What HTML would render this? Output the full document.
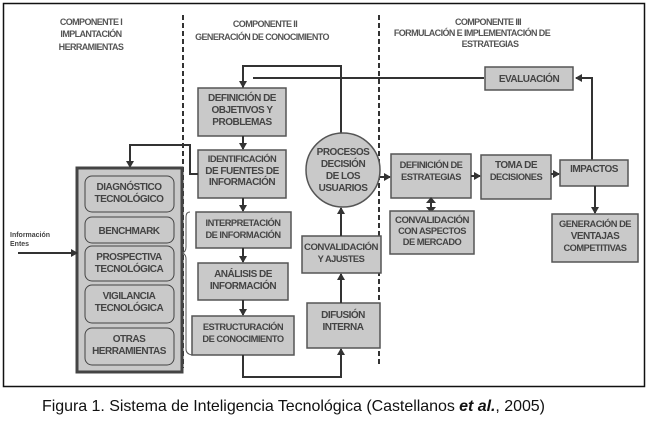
<!DOCTYPE html>
<html><head><meta charset="utf-8"><style>
body{margin:0;background:#fff;}
svg text{font-family:"Liberation Sans",sans-serif;}
.b{font-weight:bold;font-size:10px;fill:#444;text-anchor:middle;letter-spacing:-0.5px}
.s{font-size:9.3px}
.h{font-weight:bold;font-size:9px;fill:#555;text-anchor:middle;letter-spacing:-0.6px}
.bx{fill:#c9c9c9;stroke:#555;stroke-width:1.5}
.ln{stroke:#333;stroke-width:2;fill:none}
</style></head><body>
<svg width="648" height="418" viewBox="0 0 648 418" xmlns="http://www.w3.org/2000/svg">
<defs><marker id="a" markerWidth="8" markerHeight="8" refX="6" refY="4" orient="auto" markerUnits="userSpaceOnUse"><path d="M0,0 L7,4 L0,8 z" fill="#333"/></marker></defs>
<rect x="3.5" y="3.5" width="641" height="383" fill="#fff" stroke="#111" stroke-width="1.5"/>
<line x1="183" y1="15" x2="183" y2="368" stroke="#333" stroke-width="2" stroke-dasharray="5,3"/>
<line x1="379" y1="15" x2="379" y2="365" stroke="#333" stroke-width="2" stroke-dasharray="5,3"/>
<text class="h" x="91" y="25">COMPONENTE I</text>
<text class="h" x="91" y="37">IMPLANTACIÓN</text>
<text class="h" x="91" y="50">HERRAMIENTAS</text>
<text class="h" x="265" y="27">COMPONENTE II</text>
<text class="h" x="262" y="40">GENERACIÓN DE CONOCIMIENTO</text>
<text class="h" x="488" y="25">COMPONENTE III</text>
<text class="h" x="472" y="36">FORMULACIÓN E IMPLEMENTACIÓN DE</text>
<text class="h" x="490" y="47">ESTRATEGIAS</text>
<path class="ln" d="M243,88 V66 H341 V133"/>
<path class="ln" d="M253,78 H484"/>
<path class="ln" d="M592,160 V78 H576" marker-end="url(#a)"/>
<line class="ln" x1="243" y1="70" x2="243" y2="87" marker-end="url(#a)"/>
<rect class="bx" x="198" y="88" width="88" height="48"/>
<text class="b" x="242" y="101">DEFINICIÓN DE</text><text class="b" x="242" y="113">OBJETIVOS Y</text><text class="b" x="242" y="125">PROBLEMAS</text>
<line class="ln" x1="243" y1="136" x2="243" y2="149" marker-end="url(#a)"/>
<rect class="bx" x="198" y="150" width="88" height="48"/>
<text class="b s" x="242" y="162">IDENTIFICACIÓN</text><text class="b" x="242" y="174">DE FUENTES DE</text><text class="b" x="242" y="185">INFORMACIÓN</text>
<line class="ln" x1="243" y1="198" x2="243" y2="211" marker-end="url(#a)"/>
<rect class="bx" x="196" y="212" width="95" height="36"/>
<text class="b s" x="243" y="226">INTERPRETACIÓN</text><text class="b s" x="243" y="238">DE INFORMACIÓN</text>
<line class="ln" x1="243" y1="248" x2="243" y2="262" marker-end="url(#a)"/>
<rect class="bx" x="198" y="263" width="90" height="37"/>
<text class="b" x="243" y="277">ANÁLISIS DE</text><text class="b" x="243" y="289">INFORMACIÓN</text>
<line class="ln" x1="243" y1="300" x2="243" y2="315" marker-end="url(#a)"/>
<rect class="bx" x="192" y="316" width="102" height="39" stroke-width="2.5" stroke="#444"/>
<text class="b s" x="243" y="330">ESTRUCTURACIÓN</text><text class="b s" x="243" y="342">DE CONOCIMIENTO</text>
<path class="ln" d="M243,355 V377 H341 V349" marker-end="url(#a)"/>
<rect class="bx" x="307" y="303" width="73" height="45"/>
<text class="b" x="343" y="318">DIFUSIÓN</text><text class="b" x="343" y="330">INTERNA</text>
<line class="ln" x1="341" y1="303" x2="341" y2="274" marker-end="url(#a)"/>
<rect class="bx" x="302" y="236" width="79" height="37"/>
<text class="b s" x="341" y="250" textLength="74" lengthAdjust="spacingAndGlyphs">CONVALIDACIÓN</text><text class="b s" x="341" y="262">Y AJUSTES</text>
<line class="ln" x1="341" y1="236" x2="341" y2="208" marker-end="url(#a)"/>
<circle cx="343" cy="170" r="37" fill="#c9c9c9" stroke="#555" stroke-width="1.5"/>
<text class="b" x="343" y="155">PROCESOS</text><text class="b" x="343" y="167">DECISIÓN</text><text class="b" x="343" y="179">DE LOS</text><text class="b" x="343" y="191">USUARIOS</text>
<line class="ln" x1="380" y1="177" x2="390" y2="177" marker-end="url(#a)"/>
<path class="ln" d="M198,174 H190 V145 H130 V167" marker-end="url(#a)"/>
<rect x="77" y="168" width="105" height="204" fill="#c9c9c9" stroke="#444" stroke-width="3"/>
<rect x="85" y="176" width="89" height="36" rx="7" fill="#c9c9c9" stroke="#444"/>
<text class="b" x="129" y="190">DIAGNÓSTICO</text><text class="b" x="129" y="202">TECNOLÓGICO</text>
<rect x="85" y="217" width="89" height="26" rx="7" fill="#c9c9c9" stroke="#444"/>
<text class="b" x="129" y="234">BENCHMARK</text>
<rect x="85" y="246" width="89" height="35" rx="7" fill="#c9c9c9" stroke="#444"/>
<text class="b" x="129" y="260">PROSPECTIVA</text><text class="b" x="129" y="272">TECNOLÓGICA</text>
<rect x="85" y="285" width="89" height="38" rx="7" fill="#c9c9c9" stroke="#444"/>
<text class="b" x="129" y="299">VIGILANCIA</text><text class="b" x="129" y="311">TECNOLÓGICA</text>
<rect x="85" y="328" width="89" height="37" rx="7" fill="#c9c9c9" stroke="#444"/>
<text class="b" x="129" y="342">OTRAS</text><text class="b" x="129" y="354">HERRAMIENTAS</text>
<path d="M190,212 q-4,0 -4,5 v30 q0,5 -4,6 q4,1 4,6 v90 q0,5 6,6" fill="none" stroke="#555" stroke-width="1"/>
<text x="10" y="237" style="font-size:7px;font-weight:bold;fill:#444">Información</text>
<text x="10" y="246" style="font-size:7px;font-weight:bold;fill:#444">Entes</text>
<line class="ln" x1="18" y1="253" x2="77" y2="253" stroke-width="1.5" marker-end="url(#a)"/>
<rect class="bx" x="485" y="67" width="88" height="23"/>
<text class="b" x="529" y="82">EVALUACIÓN</text>
<rect class="bx" x="391" y="154" width="80" height="44"/>
<text class="b s" x="431" y="168">DEFINICIÓN DE</text><text class="b s" x="431" y="180">ESTRATEGIAS</text>
<line class="ln" x1="471" y1="176" x2="480" y2="176" marker-end="url(#a)"/>
<rect class="bx" x="481" y="155" width="70" height="44" stroke-width="2"/>
<text class="b" x="516" y="168">TOMA DE</text><text class="b s" x="516" y="180">DECISIONES</text>
<line class="ln" x1="551" y1="174" x2="559" y2="174" marker-end="url(#a)"/>
<rect class="bx" x="560" y="160" width="68" height="26"/>
<text class="b" x="594" y="172">IMPACTOS</text>
<line class="ln" x1="595" y1="186" x2="595" y2="213" marker-end="url(#a)"/>
<rect class="bx" x="552" y="214" width="86" height="48"/>
<text class="b s" x="595" y="227">GENERACIÓN DE</text><text class="b" x="595" y="239">VENTAJAS</text><text class="b s" x="595" y="251">COMPETITIVAS</text>
<line class="ln" x1="431" y1="201" x2="431" y2="209" stroke-width="2.5"/>
<path d="M426,203 L431,197 L436,203 z M426,207 L431,213 L436,207 z" fill="#333"/>
<rect class="bx" x="390" y="211" width="84" height="43"/>
<text class="b s" x="432" y="223" textLength="74" lengthAdjust="spacingAndGlyphs">CONVALIDACIÓN</text><text class="b s" x="432" y="234">CON ASPECTOS</text><text class="b s" x="432" y="245">DE MERCADO</text>
<text x="42" y="411" style="font-size:16px;fill:#111" textLength="503" lengthAdjust="spacing">Figura 1. Sistema de Inteligencia Tecnológica (Castellanos <tspan font-weight="bold" font-style="italic">et al.</tspan>, 2005)</text>
</svg>
</body></html>
